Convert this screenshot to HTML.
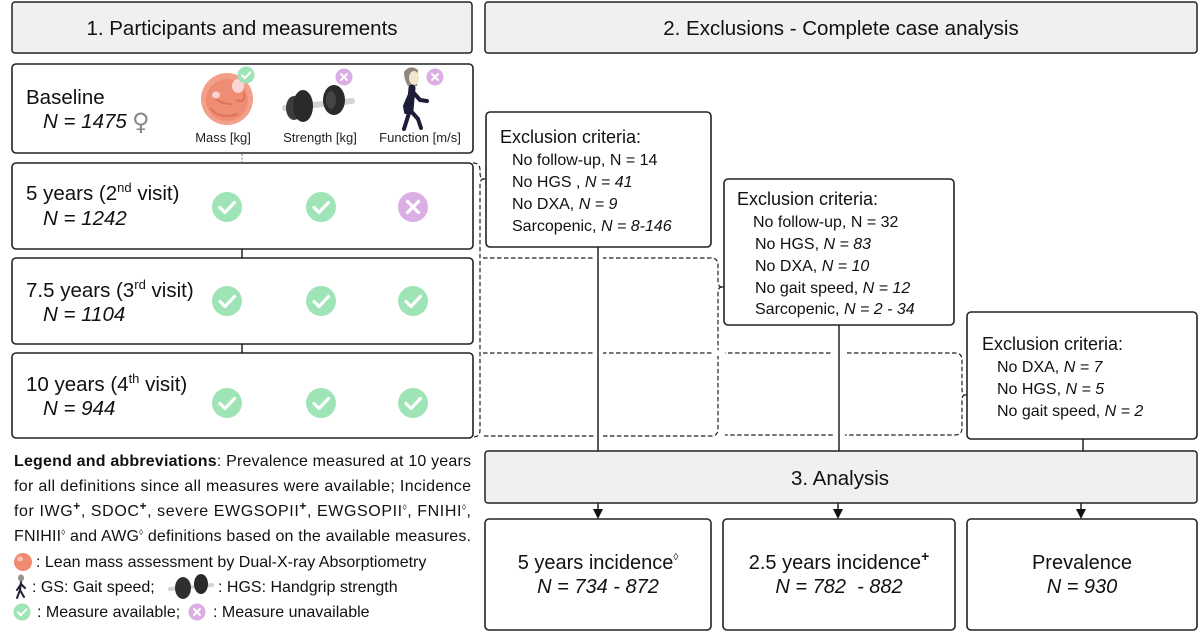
<!DOCTYPE html>
<html><head><meta charset="utf-8">
<style>
html,body{margin:0;padding:0;background:#fff;}
svg{display:block;font-family:"Liberation Sans",Arial,"DejaVu Sans",sans-serif;}
</style></head><body>
<svg width="1200" height="632" viewBox="0 0 1200 632" xmlns="http://www.w3.org/2000/svg">
<defs>
<g id="chk"><circle r="15" fill="#9fe4b6"/><path d="M-7,0.5 L-2,5.5 L7.5,-4.5" fill="none" stroke="#fff" stroke-width="3.2" stroke-linecap="round" stroke-linejoin="round"/></g>
<g id="crs"><circle r="15" fill="#dbaee6"/><path d="M-5.5,-5.5 L5.5,5.5 M5.5,-5.5 L-5.5,5.5" stroke="#fff" stroke-width="3.2" stroke-linecap="round"/></g>
<g id="chks"><circle r="8.5" fill="#9fe4b6"/><path d="M-4,0.3 L-1.2,3.2 L4.3,-2.6" fill="none" stroke="#fff" stroke-width="2" stroke-linecap="round" stroke-linejoin="round"/></g>
<g id="crss"><circle r="8.5" fill="#dbaee6"/><path d="M-3,-3 L3,3 M3,-3 L-3,3" stroke="#fff" stroke-width="2" stroke-linecap="round"/></g>
</defs>

<!-- Headers -->
<rect x="12" y="2" width="460" height="51" rx="3" fill="#f0f0f0" stroke="#222" stroke-width="1.5"/>
<text x="242" y="35" font-size="20.5" text-anchor="middle" fill="#111">1. Participants and measurements</text>
<rect x="485" y="2" width="712" height="51" rx="3" fill="#f0f0f0" stroke="#222" stroke-width="1.5"/>
<text x="841" y="35" font-size="20.5" text-anchor="middle" fill="#111">2. Exclusions - Complete case analysis</text>

<!-- Left boxes -->
<rect x="12" y="64" width="461" height="89" rx="4" fill="#fff" stroke="#222" stroke-width="1.6"/>
<rect x="12" y="163" width="461" height="86" rx="4" fill="#fff" stroke="#222" stroke-width="1.6"/>
<rect x="12" y="258" width="461" height="86" rx="4" fill="#fff" stroke="#222" stroke-width="1.6"/>
<rect x="12" y="353" width="461" height="85" rx="4" fill="#fff" stroke="#222" stroke-width="1.6"/>
<line x1="242" y1="154" x2="242" y2="163" stroke="#777" stroke-width="1" stroke-dasharray="2 1.5"/>
<line x1="242" y1="249" x2="242" y2="258" stroke="#222" stroke-width="1.5"/>
<line x1="242" y1="344" x2="242" y2="353" stroke="#222" stroke-width="1.5"/>

<!-- Baseline -->
<text x="26" y="104" font-size="20.5" fill="#111">Baseline</text>
<text x="43" y="128" font-size="20.5" fill="#111"><tspan font-style="italic">N = 1475 </tspan></text>
<text x="132" y="130" font-size="24" fill="#888" font-family="DejaVu Sans, sans-serif" font-weight="normal">♀</text>

<!-- muscle icon -->
<circle cx="227" cy="99" r="26" fill="#f3a08a"/>
<circle cx="227" cy="100" r="21" fill="#ee8c74"/>
<path d="M210,108 Q220,120 238,114 M212,94 Q218,104 232,104 M236,100 Q246,104 244,92" fill="none" stroke="#e0735b" stroke-width="2"/>
<ellipse cx="238" cy="86" rx="6" ry="7" fill="#fbd4d4"/>
<ellipse cx="216" cy="95" rx="4" ry="3.5" fill="#fbd4d4"/>
<use href="#chks" x="246" y="75"/>
<!-- dumbbell -->
<path d="M285,108 L352,101" stroke="#d4d4d4" stroke-width="6" stroke-linecap="round"/>
<ellipse cx="294" cy="108" rx="8" ry="12" fill="#3c3c3c"/>
<ellipse cx="303" cy="106" rx="10" ry="16" fill="#2a2a2a"/>
<ellipse cx="334" cy="100" rx="11" ry="15" fill="#2a2a2a"/>
<ellipse cx="331" cy="100" rx="5" ry="9" fill="#444"/>
<use href="#crss" x="344" y="77"/>
<!-- walker -->
<path d="M404,72 Q410,64 418,70 L417,86 L408,86 Q404,80 404,72 Z" fill="#8f8780"/>
<ellipse cx="414" cy="78" rx="5" ry="7" fill="#f3e6cf"/>
<path d="M412,88 L410,110" stroke="#1d1d38" stroke-width="7" stroke-linecap="round"/>
<path d="M411,92 L405,106 L406,112 M413,92 L420,100 L427,101 M410,110 L404,129 M410,110 L418,119 L421,128" fill="none" stroke="#1d1d38" stroke-width="4" stroke-linecap="round" stroke-linejoin="round"/>
<use href="#crss" x="435" y="77"/>
<text x="223" y="142" font-size="13" text-anchor="middle" fill="#222">Mass [kg]</text>
<text x="320" y="142" font-size="13" text-anchor="middle" fill="#222">Strength [kg]</text>
<text x="420" y="142" font-size="13" text-anchor="middle" fill="#222">Function [m/s]</text>

<!-- 5 years -->
<text x="26" y="200" font-size="20.5" fill="#111">5 years (2<tspan font-size="13" dy="-8">nd</tspan><tspan dy="8"> visit)</tspan></text>
<text x="43" y="225" font-size="20.5" font-style="italic" fill="#111">N = 1242</text>
<use href="#chk" x="227" y="207"/><use href="#chk" x="321" y="207"/><use href="#crs" x="413" y="207"/>
<!-- 7.5 years -->
<text x="26" y="297" font-size="20.5" fill="#111">7.5 years (3<tspan font-size="13" dy="-8">rd</tspan><tspan dy="8"> visit)</tspan></text>
<text x="43" y="321" font-size="20.5" font-style="italic" fill="#111">N = 1104</text>
<use href="#chk" x="227" y="301"/><use href="#chk" x="321" y="301"/><use href="#chk" x="413" y="301"/>
<!-- 10 years -->
<text x="26" y="391" font-size="20.5" fill="#111">10 years (4<tspan font-size="13" dy="-8">th</tspan><tspan dy="8"> visit)</tspan></text>
<text x="43" y="415" font-size="20.5" font-style="italic" fill="#111">N = 944</text>
<use href="#chk" x="227" y="403"/><use href="#chk" x="321" y="403"/><use href="#chk" x="413" y="403"/>

<!-- Legend -->
<g font-size="16" fill="#111">
<text x="14" y="466" textLength="457" lengthAdjust="spacing"><tspan font-weight="bold">Legend and abbreviations</tspan>: Prevalence measured at 10 years</text>
<text x="14" y="491" textLength="457" lengthAdjust="spacing">for all definitions since all measures were available; Incidence</text>
<text x="14" y="516" textLength="457" lengthAdjust="spacing">for IWG<tspan font-size="12" font-weight="bold" dy="-6">+</tspan><tspan dy="6">, SDOC</tspan><tspan font-size="12" font-weight="bold" dy="-6">+</tspan><tspan dy="6">, severe EWGSOPII</tspan><tspan font-size="12" font-weight="bold" dy="-6">+</tspan><tspan dy="6">, EWGSOPII</tspan><tspan font-size="8" dy="-6">◊</tspan><tspan dy="6">, FNIHI</tspan><tspan font-size="8" dy="-6">◊</tspan><tspan dy="6">,</tspan></text>
<text x="14" y="541" textLength="457" lengthAdjust="spacing">FNIHII<tspan font-size="8" dy="-6">◊</tspan><tspan dy="6"> and AWG</tspan><tspan font-size="8" dy="-6">◊</tspan><tspan dy="6"> definitions based on the available measures.</tspan></text>
<text x="36" y="567">: Lean mass assessment by Dual-X-ray Absorptiometry</text>
<text x="32" y="592">: GS: Gait speed;</text>
<text x="218" y="592">: HGS: Handgrip strength</text>
<text x="37" y="617">: Measure available;</text>
<text x="213" y="617">: Measure unavailable</text>
</g>
<circle cx="23" cy="562" r="9" fill="#f08a70"/>
<ellipse cx="20" cy="559" rx="3" ry="2.5" fill="#f8c4b8"/>
<!-- small walker -->
<ellipse cx="21" cy="578" rx="3" ry="3.5" fill="#9a928a"/>
<path d="M21,582 L20,590 M20,590 L17,598 M20,590 L24,597 M21,584 L17,590 M21,584 L25,588" fill="none" stroke="#1d1d38" stroke-width="2" stroke-linecap="round"/>
<!-- small dumbbell -->
<path d="M170,589 L212,585" stroke="#d4d4d4" stroke-width="4" stroke-linecap="round"/>
<ellipse cx="183" cy="588" rx="8" ry="11" fill="#2f2f2f"/>
<ellipse cx="201" cy="584" rx="7" ry="10" fill="#2a2a2a"/>
<use href="#chks" x="22" y="612"/>
<use href="#crss" x="197" y="612"/>

<!-- Dashed brackets -->
<g fill="none" stroke="#222" stroke-width="1.2" stroke-dasharray="4.5 2.5">
<path d="M473,163 Q480,163 480,170 L480,173 Q480,179 484,179"/>
<path d="M484,179 Q480,179 480,185 L480,430 Q480,437 473,437"/>
<path d="M483,258 L711,258 Q718,258 718,265 L718,281 Q718,287 722,287"/>
<path d="M722,287 Q718,287 718,293 L718,429 Q718,436 711,436 L483,436"/>
<path d="M483,353 L955,353 Q962,353 962,360 L962,389 Q962,395 965,395"/>
<path d="M965,395 Q962,395 962,401 L962,428 Q962,435 955,435 L725,435"/>
</g>
<g stroke="#222" stroke-width="1.2">
<line x1="483" y1="179" x2="487" y2="179"/>
<line x1="721" y1="287" x2="725" y2="287"/>
<line x1="964" y1="395" x2="968" y2="395"/>
</g>
<!-- gaps -->
<g fill="#fff">
<rect x="594" y="255" width="9" height="6"/>
<rect x="594" y="350" width="9" height="6"/>
<rect x="594" y="432" width="9" height="7"/>
<rect x="712" y="350" width="13" height="6"/>
<rect x="833" y="350" width="12" height="6"/>
<rect x="833" y="432" width="12" height="7"/>
</g>

<!-- Exclusion boxes -->
<rect x="486" y="112" width="225" height="135" rx="4" fill="#fff" stroke="#222" stroke-width="1.6"/>
<g fill="#111">
<text x="500" y="143" font-size="18">Exclusion criteria:</text>
<g font-size="16">
<text x="512" y="165">No follow-up, N = 14</text>
<text x="512" y="187">No HGS , <tspan font-style="italic">N = 41</tspan></text>
<text x="512" y="209">No DXA, <tspan font-style="italic">N = 9</tspan></text>
<text x="512" y="231">Sarcopenic, <tspan font-style="italic">N = 8-146</tspan></text>
</g>
</g>
<rect x="724" y="179" width="230" height="146" rx="4" fill="#fff" stroke="#222" stroke-width="1.6"/>
<g fill="#111">
<text x="737" y="205" font-size="18">Exclusion criteria:</text>
<g font-size="16">
<text x="753" y="227">No follow-up, N = 32</text>
<text x="755" y="249">No HGS, <tspan font-style="italic">N = 83</tspan></text>
<text x="755" y="271">No DXA, <tspan font-style="italic">N = 10</tspan></text>
<text x="755" y="293">No gait speed, <tspan font-style="italic">N = 12</tspan></text>
<text x="755" y="314">Sarcopenic, <tspan font-style="italic">N = 2 - 34</tspan></text>
</g>
</g>
<rect x="967" y="312" width="230" height="127" rx="4" fill="#fff" stroke="#222" stroke-width="1.6"/>
<g fill="#111">
<text x="982" y="350" font-size="18">Exclusion criteria:</text>
<g font-size="16">
<text x="997" y="372">No DXA, <tspan font-style="italic">N = 7</tspan></text>
<text x="997" y="394">No HGS, <tspan font-style="italic">N = 5</tspan></text>
<text x="997" y="416">No gait speed, <tspan font-style="italic">N = 2</tspan></text>
</g>
</g>

<!-- vertical solid connectors -->
<g stroke="#222" stroke-width="1.5">
<line x1="598" y1="247" x2="598" y2="451"/>
<line x1="839" y1="325" x2="839" y2="451"/>
<line x1="1083" y1="439" x2="1083" y2="451"/>
</g>

<!-- Analysis -->
<rect x="485" y="451" width="712" height="52" rx="3" fill="#f0f0f0" stroke="#222" stroke-width="1.5"/>
<text x="840" y="485" font-size="20.5" text-anchor="middle" fill="#111">3. Analysis</text>
<g stroke="#222" stroke-width="1.5">
<line x1="598" y1="503" x2="598" y2="511"/>
<line x1="838" y1="503" x2="838" y2="511"/>
<line x1="1081" y1="503" x2="1081" y2="511"/>
</g>
<g fill="#111">
<polygon points="593,509 603,509 598,519"/>
<polygon points="833,509 843,509 838,519"/>
<polygon points="1076,509 1086,509 1081,519"/>
</g>

<!-- Bottom boxes -->
<rect x="485" y="519" width="226" height="111" rx="4" fill="#fff" stroke="#222" stroke-width="1.6"/>
<rect x="723" y="519" width="232" height="111" rx="4" fill="#fff" stroke="#222" stroke-width="1.6"/>
<rect x="967" y="519" width="230" height="111" rx="4" fill="#fff" stroke="#222" stroke-width="1.6"/>
<g font-size="20" fill="#111" text-anchor="middle">
<text x="598" y="569">5 years incidence<tspan font-size="10" dy="-9">◊</tspan></text>
<text x="598" y="593" font-style="italic">N = 734 - 872</text>
<text x="839" y="569">2.5 years incidence<tspan font-size="14" font-weight="bold" dy="-8">+</tspan></text>
<text x="839" y="593" font-style="italic" xml:space="preserve">N = 782  - 882</text>
<text x="1082" y="569">Prevalence</text>
<text x="1082" y="593" font-style="italic">N = 930</text>
</g>
</svg>
</body></html>
